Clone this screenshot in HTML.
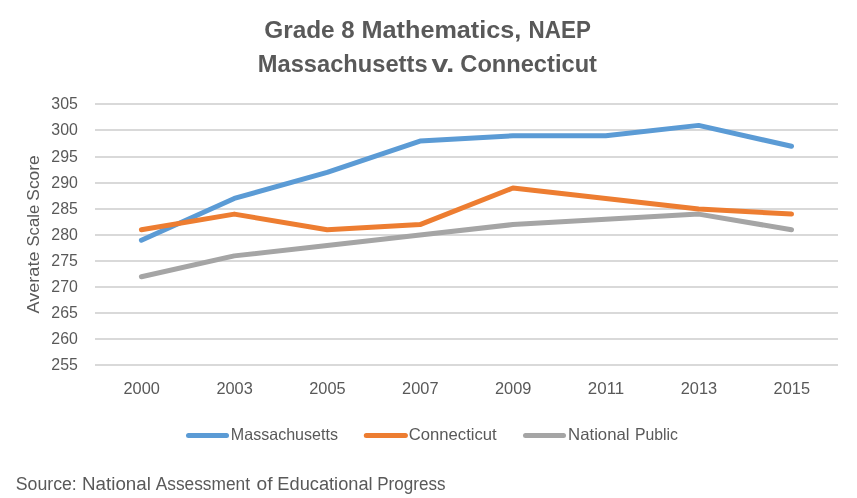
<!DOCTYPE html>
<html><head><meta charset="utf-8"><style>
html,body{margin:0;padding:0;background:#fff;width:857px;height:498px;overflow:hidden}
svg{display:block;will-change:transform}
text{font-family:"Liberation Sans",sans-serif;fill:#595959}
</style></head><body>
<svg width="857" height="498" viewBox="0 0 857 498">
<rect width="857" height="498" fill="#fff"/>
<text x="264.18" y="37.5" font-size="24" font-weight="bold" textLength="70.50" lengthAdjust="spacingAndGlyphs">Grade</text>
<text x="341.20" y="37.5" font-size="24" font-weight="bold" textLength="13.36" lengthAdjust="spacingAndGlyphs">8</text>
<text x="361.55" y="37.5" font-size="24" font-weight="bold" textLength="159.77" lengthAdjust="spacingAndGlyphs">Mathematics,</text>
<text x="528.57" y="37.5" font-size="24" font-weight="bold" textLength="62.28" lengthAdjust="spacingAndGlyphs">NAEP</text>
<text x="257.81" y="71.5" font-size="24" font-weight="bold" textLength="169.75" lengthAdjust="spacingAndGlyphs">Massachusetts</text>
<text x="431.40" y="71.5" font-size="24" font-weight="bold" textLength="22.85" lengthAdjust="spacingAndGlyphs">v.</text>
<text x="460.31" y="71.5" font-size="24" font-weight="bold" textLength="136.66" lengthAdjust="spacingAndGlyphs">Connecticut</text>
<rect x="95" y="103" width="743" height="2" fill="#d9d9d9"/>
<rect x="95" y="129" width="743" height="2" fill="#d9d9d9"/>
<rect x="95" y="156" width="743" height="2" fill="#d9d9d9"/>
<rect x="95" y="182" width="743" height="2" fill="#d9d9d9"/>
<rect x="95" y="208" width="743" height="2" fill="#d9d9d9"/>
<rect x="95" y="234" width="743" height="2" fill="#d9d9d9"/>
<rect x="95" y="260" width="743" height="2" fill="#d9d9d9"/>
<rect x="95" y="286" width="743" height="2" fill="#d9d9d9"/>
<rect x="95" y="312" width="743" height="2" fill="#d9d9d9"/>
<rect x="95" y="338" width="743" height="2" fill="#d9d9d9"/>
<rect x="95" y="364" width="743" height="2" fill="#d9d9d9"/>
<text x="77.8" y="109.0" font-size="16.5" text-anchor="end" textLength="26.5" lengthAdjust="spacingAndGlyphs">305</text>
<text x="77.8" y="135.0" font-size="16.5" text-anchor="end" textLength="26.5" lengthAdjust="spacingAndGlyphs">300</text>
<text x="77.8" y="162.0" font-size="16.5" text-anchor="end" textLength="26.5" lengthAdjust="spacingAndGlyphs">295</text>
<text x="77.8" y="188.0" font-size="16.5" text-anchor="end" textLength="26.5" lengthAdjust="spacingAndGlyphs">290</text>
<text x="77.8" y="214.0" font-size="16.5" text-anchor="end" textLength="26.5" lengthAdjust="spacingAndGlyphs">285</text>
<text x="77.8" y="240.0" font-size="16.5" text-anchor="end" textLength="26.5" lengthAdjust="spacingAndGlyphs">280</text>
<text x="77.8" y="266.0" font-size="16.5" text-anchor="end" textLength="26.5" lengthAdjust="spacingAndGlyphs">275</text>
<text x="77.8" y="292.0" font-size="16.5" text-anchor="end" textLength="26.5" lengthAdjust="spacingAndGlyphs">270</text>
<text x="77.8" y="318.0" font-size="16.5" text-anchor="end" textLength="26.5" lengthAdjust="spacingAndGlyphs">265</text>
<text x="77.8" y="344.0" font-size="16.5" text-anchor="end" textLength="26.5" lengthAdjust="spacingAndGlyphs">260</text>
<text x="77.8" y="370.0" font-size="16.5" text-anchor="end" textLength="26.5" lengthAdjust="spacingAndGlyphs">255</text>
<text x="141.70" y="394" font-size="16.5" text-anchor="middle" textLength="36.4" lengthAdjust="spacingAndGlyphs">2000</text>
<text x="234.58" y="394" font-size="16.5" text-anchor="middle" textLength="36.4" lengthAdjust="spacingAndGlyphs">2003</text>
<text x="327.45" y="394" font-size="16.5" text-anchor="middle" textLength="36.4" lengthAdjust="spacingAndGlyphs">2005</text>
<text x="420.32" y="394" font-size="16.5" text-anchor="middle" textLength="36.4" lengthAdjust="spacingAndGlyphs">2007</text>
<text x="513.20" y="394" font-size="16.5" text-anchor="middle" textLength="36.4" lengthAdjust="spacingAndGlyphs">2009</text>
<text x="606.07" y="394" font-size="16.5" text-anchor="middle" textLength="36.4" lengthAdjust="spacingAndGlyphs">2011</text>
<text x="698.95" y="394" font-size="16.5" text-anchor="middle" textLength="36.4" lengthAdjust="spacingAndGlyphs">2013</text>
<text x="791.82" y="394" font-size="16.5" text-anchor="middle" textLength="36.4" lengthAdjust="spacingAndGlyphs">2015</text>
<g transform="translate(39,0) rotate(-90)">
<text x="-313.50" y="0" font-size="17" textLength="62.00" lengthAdjust="spacingAndGlyphs">Averate</text>
<text x="-246.48" y="0" font-size="17" textLength="41.60" lengthAdjust="spacingAndGlyphs">Scale</text>
<text x="-200.72" y="0" font-size="17" textLength="45.45" lengthAdjust="spacingAndGlyphs">Score</text>
</g>
<polyline points="141.40,240.22 234.28,198.46 327.15,172.36 420.02,141.04 512.90,135.82 605.77,135.82 698.65,125.38 791.52,146.26" fill="none" stroke="#5b9bd5" stroke-width="5" stroke-linecap="round" stroke-linejoin="round"/>
<polyline points="141.40,276.76 234.28,255.88 327.15,245.44 420.02,235.00 512.90,224.56 605.77,219.34 698.65,214.12 791.52,229.78" fill="none" stroke="#a5a5a5" stroke-width="5" stroke-linecap="round" stroke-linejoin="round"/>
<polyline points="141.40,229.78 234.28,214.12 327.15,229.78 420.02,224.56 512.90,188.02 605.77,198.46 698.65,208.90 791.52,214.12" fill="none" stroke="#ed7d31" stroke-width="5" stroke-linecap="round" stroke-linejoin="round"/>
<line x1="188.5" y1="435.5" x2="226.5" y2="435.5" stroke="#5b9bd5" stroke-width="5" stroke-linecap="round"/>
<line x1="366.3" y1="435.5" x2="405.4" y2="435.5" stroke="#ed7d31" stroke-width="5" stroke-linecap="round"/>
<line x1="525.5" y1="435.5" x2="563.5" y2="435.5" stroke="#a5a5a5" stroke-width="5" stroke-linecap="round"/>
<text x="230.83" y="440" font-size="16.5" textLength="107.12" lengthAdjust="spacingAndGlyphs">Massachusetts</text>
<text x="408.79" y="440" font-size="16.5" textLength="87.95" lengthAdjust="spacingAndGlyphs">Connecticut</text>
<text x="568.08" y="440" font-size="16.5" textLength="61.47" lengthAdjust="spacingAndGlyphs">National</text>
<text x="634.94" y="440" font-size="16.5" textLength="43.01" lengthAdjust="spacingAndGlyphs">Public</text>
<text x="15.72" y="489.8" font-size="18" textLength="61.06" lengthAdjust="spacingAndGlyphs">Source:</text>
<text x="82.06" y="489.8" font-size="18" textLength="68.83" lengthAdjust="spacingAndGlyphs">National</text>
<text x="155.70" y="489.8" font-size="18" textLength="94.35" lengthAdjust="spacingAndGlyphs">Assessment</text>
<text x="256.50" y="489.8" font-size="18" textLength="16.02" lengthAdjust="spacingAndGlyphs">of</text>
<text x="277.39" y="489.8" font-size="18" textLength="95.20" lengthAdjust="spacingAndGlyphs">Educational</text>
<text x="377.25" y="489.8" font-size="18" textLength="68.18" lengthAdjust="spacingAndGlyphs">Progress</text>
</svg></body></html>
